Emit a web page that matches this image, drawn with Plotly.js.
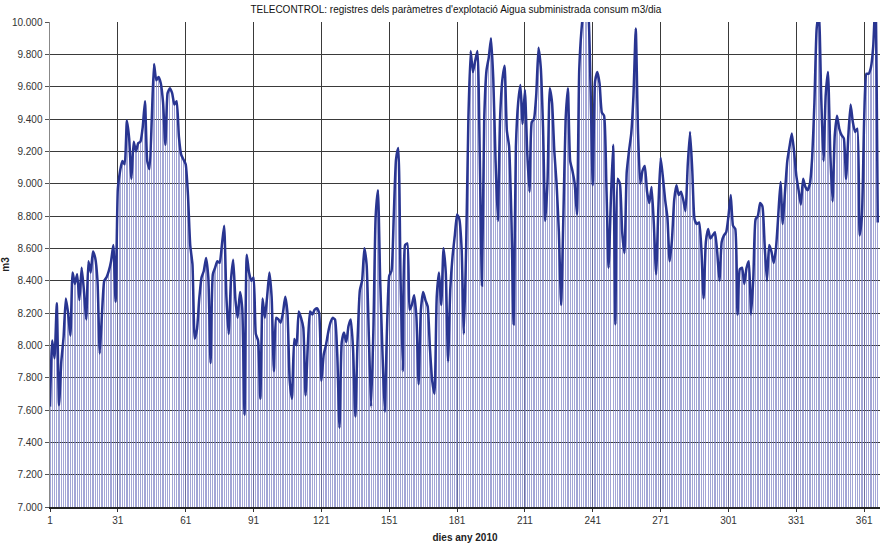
<!DOCTYPE html>
<html>
<head>
<meta charset="utf-8">
<script src="https://cdn.plot.ly/plotly-3.0.1.min.js"></script>
<style>
  html, body { margin: 0; padding: 0; background: #ffffff; }
  #chart { width: 883px; height: 544px; }
</style>
</head>
<body>
<div id="chart"></div>
<script>
// Daily supplied water (m3/dia), 2010
const consum = [
  7620, 8030, 7920, 8260, 7630, 7900, 8050, 8290, 8200, 8060,
  8450, 8380, 8440, 8280, 8480, 8340, 8160, 8520, 8450, 8580,
  8540, 8400, 7950, 8200, 8400, 8420, 8460, 8520, 8620, 8270,
  8970, 9080, 9140, 9120, 9390, 9280, 9030, 9260, 9200, 9250,
  9260, 9350, 9510, 9140, 9090, 9400, 9740, 9640, 9660, 9620,
  9500, 9240, 9560, 9590, 9560, 9490, 9510, 9290, 9180, 9150,
  9120, 8930, 8620, 8500, 8040, 8100, 8290, 8420, 8460, 8540,
  8420, 7890, 8440, 8480, 8520, 8510, 8620, 8740, 8300, 8070,
  8400, 8530, 8280, 8170, 8330, 8230, 7570, 8560, 8450, 8400,
  8420, 8070, 8030, 7670, 8290, 8170, 8300, 8450, 8300, 7840,
  8170, 8160, 8140, 8200, 8300, 8200, 7780, 7670, 8040, 8000,
  8210, 8170, 8110, 7690, 8000, 8210, 8190, 8220, 8230, 8200,
  7780, 7940, 8000, 8080, 8140, 8170, 8160, 7950, 7490, 8020,
  8080, 8020, 8120, 8160, 7980, 7560, 8030, 8340, 8400, 8600,
  8500, 8050, 7620, 8100, 8800, 8960, 8400, 7960, 7590, 8100,
  8430, 8460, 8800, 9150, 9220, 8420, 7840, 8620, 8630, 8220,
  8250, 8310, 8180, 7760, 8220, 8330, 8280, 8240, 7980, 7780,
  7700, 8300, 8450, 8250, 8600, 8450, 7900, 8350, 8550, 8680,
  8810, 8780, 8600, 8070, 8600, 9400, 9820, 9690, 9760, 9820,
  9200, 8370, 9400, 9700, 9780, 9900, 9650, 9150, 8770, 9400,
  9640, 9730, 9330, 9230, 8800, 8130, 9230, 9500, 9610, 9370,
  9580, 9200, 8950, 9380, 9400, 9550, 9840, 9720, 9350, 8770,
  9020, 9590, 9500, 9200, 9000, 8700, 8250, 8800, 9400, 9590,
  9140, 9080, 9000, 8810, 9700, 9950, 10080, 10100, 10060, 9600,
  8990, 9630, 9690, 9620, 9440, 9420, 9000, 8480, 8900, 9240,
  8130, 9030, 9000, 8700, 8570, 9070, 9200, 9310, 9550, 9960,
  9320, 9000, 9080, 9110, 8950, 8880, 8980, 8750, 8440, 8850,
  9160, 9040, 8900, 8790, 8520, 8650, 8900, 8990, 8930, 8950,
  8900, 8830, 9120, 9320, 9080, 8780, 8750, 8760, 8600, 8290,
  8640, 8720, 8660, 8680, 8700, 8580, 8400, 8640, 8680, 8700,
  8800, 8930, 8740, 8720, 8190, 8470, 8480, 8380, 8480, 8520,
  8190, 8420, 8780, 8800, 8880, 8860, 8620, 8400, 8620, 8580,
  8510, 8600, 8800, 9010, 8750, 8950, 9140, 9230, 9310, 9200,
  9050, 8960, 8870, 9030, 8980, 8960, 9000, 9160, 9500, 9960,
  10050, 9540, 9140, 9550, 9690, 9200, 8890, 9300, 9420, 9340,
  9300, 9280, 9030, 9300, 9490, 9380, 9320, 9340, 8680, 8800,
  9400, 9680, 9680, 9720, 9850, 10150, 8760
];

// Day numbers 1..N for each reading
const dies = consum.map((_, i) => i + 1);

// Category ticks every 30 days
const diesTicks = [1, 31, 61, 91, 121, 151, 181, 211, 241, 271, 301, 331, 361];

const titol = "TELECONTROL: registres dels paràmetres d'explotació Aigua subministrada consum m3/dia";
const titolX = "dies any 2010";
const titolY = "m3";

const FONT = "'Liberation Sans', Arial, sans-serif";

// Thin drop lines from each daily value down to the axis
const dropLines = {
  type: 'bar',
  x: dies,
  y: consum,
  width: 0.55,
  marker: { color: 'rgba(128,132,198,0.72)', line: { width: 0 } },
  hoverinfo: 'skip',
  showlegend: false
};

// Smoothed daily consumption line
const linia = {
  type: 'scatter',
  mode: 'lines',
  x: dies,
  y: consum,
  line: { color: '#293591', width: 2.5, shape: 'spline', smoothing: 0.5 },
  showlegend: false
};

const layout = {
  width: 883,
  height: 544,
  margin: { l: 50, r: 3, t: 22, b: 37, pad: 0 },
  paper_bgcolor: '#ffffff',
  plot_bgcolor: '#ffffff',
  separators: ',.',
  font: { family: FONT, size: 10, color: '#333333' },
  title: {
    text: titol,
    font: { family: FONT, size: 10, color: '#111111' },
    xref: 'paper', x: 0.489, xanchor: 'center',
    yref: 'container', y: 0.982, yanchor: 'middle'
  },
  xaxis: {
    range: [1, 368],
    tickmode: 'array',
    tickvals: diesTicks,
    ticktext: diesTicks.map(String),
    ticks: 'outside',
    ticklen: 3,
    tickcolor: '#333333',
    showgrid: true,
    gridcolor: '#3a3a3a',
    gridwidth: 1,
    zeroline: false,
    showline: true,
    linecolor: '#222222',
    linewidth: 1.5,
    tickfont: { family: FONT, size: 10, color: '#333333' },
    title: {
      text: '<b>' + titolX + '</b>',
      font: { family: FONT, size: 10, color: '#222222' },
      standoff: 9
    }
  },
  yaxis: {
    range: [7000, 10000],
    dtick: 200,
    tick0: 7000,
    tickformat: ',.0f',
    ticks: 'outside',
    ticklen: 4,
    tickcolor: '#555555',
    showgrid: true,
    gridcolor: '#3a3a3a',
    gridwidth: 1,
    zeroline: false,
    showline: true,
    linecolor: '#888888',
    linewidth: 1.5,
    tickfont: { family: FONT, size: 10, color: '#333333' },
    title: {
      text: '<b>' + titolY + '</b>',
      font: { family: FONT, size: 10, color: '#222222' },
      standoff: 8
    }
  },
  bargap: 0
};

Plotly.newPlot('chart', [dropLines, linia], layout, { displayModeBar: false, staticPlot: true });
</script>
</body>
</html>
